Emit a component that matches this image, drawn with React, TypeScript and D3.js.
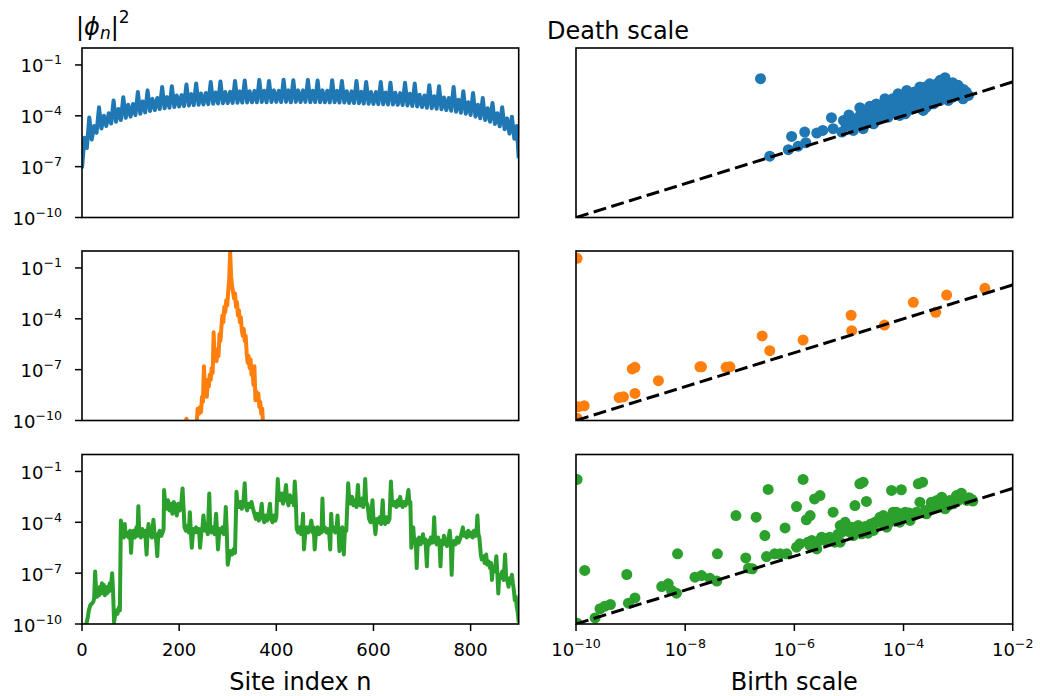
import React from "react";
import * as d3 from "d3";

// ---------- DATA (log10 values) ----------
// Row 1 (blue): [site n, log10 |phi_n|^2]
const blueWave: [number, number][] = [
[0,-7.1],[5,-5.3],[10,-5.9],[15,-4.1],[20,-5.4],[25,-4.6],[30,-5.0],[35,-3.5],[40,-4.75],[45,-4.0],[50,-4.6],[55,-3.85],[60,-4.45],[65,-3.1],[70,-4.35],[75,-3.6],[80,-4.25],[85,-2.9],[90,-4.12],[95,-3.35],[100,-4.05],[105,-3.3],[110,-3.95],[115,-2.6],[120,-3.88],[125,-3.15],[130,-3.8],[135,-2.5],[140,-3.72],[145,-3.0],[150,-3.66],[155,-2.95],[160,-3.6],[165,-2.3],[170,-3.56],[175,-2.9],[180,-3.52],[185,-2.25],[190,-3.48],[195,-2.8],[200,-3.45],[205,-2.78],[210,-3.42],[215,-2.15],[220,-3.4],[225,-2.72],[230,-3.37],[235,-2.1],[240,-3.35],[245,-2.68],[250,-3.33],[255,-2.65],[260,-3.31],[265,-2.0],[270,-3.29],[275,-2.62],[280,-3.27],[285,-1.98],[290,-3.26],[295,-2.6],[300,-3.25],[305,-2.58],[310,-3.24],[315,-1.95],[320,-3.23],[325,-2.56],[330,-3.22],[335,-1.92],[340,-3.21],[345,-2.55],[350,-3.2],[355,-2.53],[360,-3.2],[365,-1.88],[370,-3.19],[375,-2.52],[380,-3.2],[385,-1.95],[390,-3.19],[395,-2.5],[400,-3.18],[405,-2.52],[410,-3.19],[415,-1.87],[420,-3.18],[425,-2.5],[430,-3.2],[435,-1.9],[440,-3.18],[445,-2.5],[450,-3.19],[455,-2.5],[460,-3.18],[465,-1.88],[470,-3.2],[475,-2.52],[480,-3.19],[485,-1.92],[490,-3.2],[495,-2.5],[500,-3.2],[505,-2.52],[510,-3.21],[515,-1.9],[520,-3.2],[525,-2.53],[530,-3.22],[535,-1.95],[540,-3.22],[545,-2.55],[550,-3.24],[555,-2.56],[560,-3.25],[565,-1.95],[570,-3.26],[575,-2.58],[580,-3.28],[585,-2.0],[590,-3.29],[595,-2.6],[600,-3.3],[605,-2.6],[610,-3.31],[615,-2.0],[620,-3.32],[625,-2.62],[630,-3.33],[635,-2.05],[640,-3.34],[645,-2.64],[650,-3.35],[655,-2.66],[660,-3.36],[665,-2.05],[670,-3.39],[675,-2.7],[680,-3.42],[685,-2.1],[690,-3.45],[695,-2.76],[700,-3.48],[705,-2.8],[710,-3.52],[715,-2.2],[720,-3.55],[725,-2.85],[730,-3.58],[735,-2.25],[740,-3.62],[745,-2.92],[750,-3.66],[755,-2.95],[760,-3.7],[765,-2.3],[770,-3.76],[775,-3.05],[780,-3.82],[785,-2.55],[790,-3.88],[795,-3.2],[800,-3.95],[805,-2.65],[810,-4.05],[815,-3.35],[820,-4.15],[825,-2.95],[830,-4.25],[835,-3.55],[840,-4.35],[845,-3.25],[850,-4.48],[855,-3.85],[860,-4.62],[865,-3.5],[870,-4.8],[875,-4.15],[880,-5.05],[885,-4.05],[890,-5.35],[895,-4.6],[899,-6.5]
];

// Row 2 (orange)
const orangeWave: [number, number][] = [
[200,-11],[210,-10.6],[215,-9.9],[219,-10.6],[230,-10.8],[236,-10.2],[238,-9.3],[241,-9.6],[243,-9.2],[245,-9.5],[247,-8.6],[249,-8.9],[251,-6.8],[253,-8.3],[255,-7.9],[257,-8.6],[259,-7.6],[261,-8.0],[263,-7.3],[265,-7.6],[267,-6.9],[269,-7.2],[271,-4.8],[273,-6.4],[275,-6.0],[277,-6.5],[279,-5.8],[281,-6.2],[283,-4.9],[285,-5.3],[287,-4.5],[289,-3.8],[291,-4.2],[293,-3.3],[295,-3.6],[297,-2.9],[299,-3.2],[301,-2.4],[303,-1.7],[305,-0.05],[307,-1.5],[309,-2.1],[311,-2.4],[313,-2.8],[315,-2.5],[317,-3.3],[319,-3.0],[321,-3.8],[323,-3.5],[325,-4.2],[327,-3.9],[329,-4.7],[331,-5.0],[333,-4.6],[335,-5.3],[337,-5.0],[339,-6.0],[341,-6.6],[343,-6.2],[345,-6.9],[347,-6.4],[349,-7.3],[351,-7.0],[353,-7.9],[355,-6.8],[357,-8.8],[359,-8.3],[361,-8.8],[363,-8.4],[365,-9.2],[367,-8.9],[369,-9.6],[371,-9.3],[373,-10.4],[380,-11]
];

// Row 3 (green)
const greenWave: [number, number][] = [
[0,-10.3],[5,-10.1],[9,-10.0],[12,-9.6],[14,-9.2],[17,-8.9],[20,-8.8],[23,-8.7],[25,-8.5],[27,-6.9],[29,-8.0],[31,-8.4],[33,-7.9],[35,-8.3],[37,-7.8],[39,-8.2],[41,-7.6],[43,-8.0],[45,-7.7],[47,-8.3],[49,-7.9],[51,-8.2],[53,-7.8],[55,-8.1],[57,-7.6],[59,-8.0],[62,-7.0],[64,-8.1],[66,-9.9],[68,-9.5],[71,-9.2],[73,-9.4],[76,-9.0],[78,-9.2],
[80,-3.9],[82,-4.7],[84,-4.3],[86,-4.9],[88,-4.1],[90,-4.8],[93,-4.6],[96,-4.9],[99,-4.5],[101,-5.8],[103,-4.7],[106,-4.5],[109,-4.9],[112,-4.3],[114,-4.8],[116,-3.05],[118,-4.6],[121,-4.9],[124,-4.4],[127,-4.8],[130,-4.5],[133,-5.9],[135,-4.6],[137,-4.1],[139,-4.8],[141,-4.5],[144,-4.9],[147,-3.85],[149,-4.6],[152,-4.8],[155,-6.0],[157,-4.7],[160,-4.5],[163,-4.8],[166,-4.6],
[168,-4.4],[169,-2.1],[171,-2.8],[174,-3.2],[177,-2.7],[180,-3.3],[183,-2.9],[186,-3.5],[189,-2.8],[192,-3.1],[195,-3.6],[198,-2.9],[201,-3.3],[204,-3.0],[207,-2.0],[209,-3.1],
[211,-4.3],[214,-4.5],[217,-4.2],[220,-4.6],[222,-3.4],[224,-4.5],[226,-5.5],[229,-4.4],[232,-4.6],[235,-4.3],[238,-4.6],[241,-4.4],[243,-5.5],[246,-4.5],[248,-4.3],[250,-3.6],[253,-4.5],[256,-4.3],[259,-4.7],[262,-2.3],[264,-4.4],[267,-4.6],[270,-4.3],[273,-4.7],[276,-3.5],[278,-4.5],[280,-5.6],[283,-4.4],[286,-4.6],[289,-4.3],[292,-4.7],[294,-4.4],[296,-3.1],[298,-4.5],
[300,-6.5],[303,-6.0],[306,-5.7],[309,-5.9],[312,-5.6],[315,-5.8],
[318,-2.2],[320,-2.9],[323,-3.1],[326,-2.8],[329,-3.2],[332,-2.9],[335,-1.7],[337,-3.0],[340,-3.3],[343,-2.9],[346,-3.1],[349,-2.8],[352,-3.2],
[355,-3.5],[358,-3.8],[361,-3.5],[364,-3.9],[367,-3.6],[370,-2.9],[372,-3.7],[375,-4.0],[378,-3.6],[381,-3.9],[384,-3.5],[387,-2.9],[389,-3.8],[392,-4.0],[395,-3.6],[398,-3.9],[400,-3.7],
[403,-1.45],[405,-2.4],[408,-2.7],[411,-2.3],[414,-2.9],[417,-2.5],[420,-1.8],[422,-2.6],[425,-3.0],[428,-2.4],[431,-2.8],[434,-2.5],[436,-3.0],[438,-1.6],[440,-2.6],
[442,-4.4],[445,-4.6],[448,-4.3],[451,-4.7],[453,-4.4],[455,-3.5],[457,-5.6],[460,-4.5],[463,-4.3],[466,-4.6],[469,-4.4],[472,-3.9],[475,-4.6],[477,-4.3],[479,-5.6],[482,-4.5],[485,-4.3],[488,-4.7],[491,-4.4],[493,-4.6],[495,-2.6],[497,-4.5],[500,-4.3],[503,-4.6],[506,-4.4],[509,-4.7],[511,-5.6],[513,-3.5],[515,-4.5],[518,-4.3],[521,-4.6],[524,-4.4],[526,-3.6],[528,-4.5],[530,-5.7],[533,-4.5],[536,-4.3],[539,-5.9],[541,-4.6],[544,-4.5],
[548,-1.7],[550,-2.6],[553,-2.9],[556,-2.5],[559,-3.0],[562,-2.7],[565,-3.1],[568,-1.8],[570,-2.8],[573,-3.0],[576,-2.6],[579,-3.1],[581,-2.7],[583,-1.45],[585,-2.8],[588,-3.0],
[591,-3.8],[594,-4.0],[598,-2.7],[600,-3.8],[602,-4.1],[604,-4.7],[607,-3.8],[610,-4.0],[613,-3.7],[616,-4.1],[619,-2.7],[621,-3.9],[624,-4.1],[627,-3.7],[630,-4.0],[633,-3.8],
[636,-1.6],[638,-2.7],[641,-3.0],[644,-2.8],[647,-3.1],[650,-2.7],[653,-3.0],[655,-2.5],[657,-2.9],[660,-3.1],[663,-2.8],[666,-3.0],[669,-2.7],[672,-2.1],[674,-2.9],[676,-2.8],
[678,-5.5],[680,-5.0],[682,-4.3],[684,-5.2],[687,-5.0],[689,-6.7],[691,-5.1],[694,-4.9],[697,-5.3],[700,-5.0],[702,-4.7],[704,-5.2],[707,-5.0],[710,-6.6],[712,-5.1],[715,-5.3],[718,-4.9],[721,-5.2],[723,-5.0],[725,-3.7],[727,-5.1],[730,-5.3],[733,-4.9],[736,-5.2],[738,-6.6],[740,-5.1],[743,-5.3],[745,-4.8],[748,-5.1],[751,-5.4],[754,-5.0],[757,-4.5],[759,-5.2],[761,-7.1],[763,-5.4],[766,-5.1],[769,-5.3],[772,-4.9],[775,-5.2],[778,-5.0],
[781,-4.7],[784,-4.3],[786,-4.8],[789,-4.6],[792,-4.9],[795,-4.5],[798,-4.8],[801,-4.6],[804,-4.9],[807,-4.5],[810,-4.8],[812,-4.6],[814,-3.6],[816,-4.7],[818,-4.9],
[821,-5.9],[823,-6.2],[826,-6.0],[829,-6.4],[832,-5.9],[834,-6.5],[837,-6.3],[840,-6.7],[842,-6.4],[844,-7.4],[846,-6.6],[849,-6.9],[851,-6.6],[853,-6.0],[855,-7.0],[857,-8.2],[859,-7.1],[862,-7.3],[865,-6.9],[868,-7.4],[871,-5.9],[873,-7.2],[876,-7.5],[878,-7.8],[880,-7.3],[883,-7.6],[885,-7.1],[887,-7.6],[889,-8.0],
[891,-8.6],[893,-8.4],[895,-9.0],[897,-9.3],[899,-9.9]
];

// Persistence scatter: [log10 birth scale, log10 death scale]
const blueScatter: [number, number][] = [
[-6.62,-1.81],[-6.45,-6.38],[-6.11,-6.0],[-6.05,-5.22],[-5.93,-5.79],[-5.79,-5.59],[-5.81,-4.96],[-5.59,-5.02],[-5.48,-4.86],[-5.32,-4.11],[-5.29,-4.76],[-5.13,-4.96],[-5.1,-4.27],[-4.98,-4.07],[-4.92,-4.86],[-4.8,-3.52],[-4.65,-3.88],[-4.62,-3.44],[-4.71,-4.47],[-4.55,-4.47],[-4.43,-3.68],[-4.34,-2.99],[-4.28,-4.07],[-4.19,-3.39],[-4.1,-2.7],[-4.07,-3.98],[-3.94,-2.5],[-3.91,-3.68],[-3.76,-3.09],[-3.7,-2.3],[-3.58,-3.48],[-3.52,-2.11],[-3.39,-2.89],[-3.33,-1.91],[-3.24,-1.75],[-3.18,-3.09],[-3.09,-2.3],[-3.03,-2.8],[-2.91,-2.8],[-2.81,-2.8],
[-4.25,-3.09],[-4.13,-3.68],[-4.0,-3.09],[-3.88,-2.89],[-3.82,-3.48],[-3.64,-2.7],[-3.45,-2.5],[-3.33,-3.09],[-3.27,-2.5],[-3.15,-2.11],[-3.45,-3.29],[-3.64,-3.68],[-2.97,-2.5],[-3.09,-2.89],[-3.21,-2.3],[-3.97,-3.88],[-4.55,-3.88],[-4.8,-4.27],[-4.49,-4.17],[-3.79,-2.7],[-3.58,-2.89],[-3.39,-2.11],[-2.91,-3.0],[-4.74,-4.76],[-5.0,-3.95],[-5.05,-4.6],
[-4.9,-4.5],[-4.9,-4.2],[-4.8,-4.6],[-4.8,-4.0],[-4.7,-4.3],[-4.7,-3.7],[-4.6,-4.2],[-4.6,-3.9],[-4.5,-4.1],[-4.5,-3.6],[-4.5,-3.3],[-4.4,-4.0],[-4.4,-3.4],[-4.3,-3.9],[-4.3,-3.6],[-4.3,-3.2],[-4.2,-3.8],[-4.2,-3.0],[-4.1,-3.7],[-4.1,-3.3],[-4.0,-3.6],[-4.0,-3.2],[-4.0,-2.8],[-3.9,-3.5],[-3.9,-3.0],[-3.8,-3.4],[-3.8,-3.1],[-3.8,-2.6],[-3.7,-3.3],[-3.7,-2.9],[-3.7,-2.5],[-3.6,-3.2],[-3.6,-2.6],[-3.6,-2.3],[-3.5,-3.1],[-3.5,-2.8],[-3.5,-2.4],[-3.4,-3.0],[-3.4,-2.6],[-3.4,-2.2],[-3.3,-2.9],[-3.3,-2.4],[-3.3,-2.0],[-3.2,-2.85],[-3.2,-2.5],[-3.2,-2.1],[-3.1,-2.75],[-3.1,-2.5],[-3.1,-2.05],[-3.0,-2.7],[-3.0,-2.4],[-3.0,-2.2],[-2.9,-2.65],[-2.9,-2.45],[-2.85,-2.6],[-2.85,-2.75]
];

const orangeScatter: [number, number][] = [
[-9.98,-0.43],[-9.96,-9.19],[-9.85,-9.13],[-9.98,-9.87],[-9.21,-8.65],[-9.13,-8.6],[-8.92,-8.4],[-8.97,-6.96],[-8.92,-6.86],[-8.49,-7.65],[-7.73,-6.83],[-7.7,-6.83],[-7.25,-6.86],[-7.18,-6.83],[-6.59,-5.01],[-6.45,-5.88],[-5.84,-5.25],[-4.96,-3.79],[-4.95,-4.7],[-4.35,-4.37],[-3.82,-3.03],[-3.41,-3.62],[-3.21,-2.6],[-2.51,-2.2]
];

const greenScatter: [number, number][] = [
[-9.98,-1.47],[-9.84,-6.84],[-9.98,-9.95],[-9.65,-9.64],[-9.56,-9.1],[-9.47,-8.95],[-9.37,-8.85],[-9.07,-7.08],[-9.04,-8.77],[-8.92,-8.46],[-8.43,-7.79],[-8.31,-7.63],[-8.25,-8.02],[-8.14,-5.86],[-8.16,-8.18],[-7.82,-7.24],[-7.7,-7.14],[-7.55,-7.3],[-7.42,-7.47],[-7.41,-5.86],[-7.07,-3.6],[-6.89,-6.1],[-6.84,-6.71],[-6.77,-6.74],[-6.7,-3.7],[-6.54,-4.78],[-6.51,-6.02],[-6.48,-2.06],[-6.36,-5.86],[-6.17,-4.33],[-6.14,-5.86],[-5.96,-3.07],[-5.96,-5.47],[-5.84,-1.47],[-5.78,-3.85],[-5.75,-5.17],[-5.71,-3.6],[-5.71,-5.37],[-5.63,-2.62],[-5.53,-2.42],[-5.59,-5.57],[-5.5,-4.88],[-5.41,-5.07],[-5.35,-4.88],[-5.29,-3.4],[-5.26,-5.17],[-5.16,-5.17],[-5.13,-4.58],[-5.04,-4.39],[-4.95,-4.29],[-4.89,-3.01],[-4.86,-4.48],[-4.83,-4.19],[-4.8,-1.73],[-4.74,-1.63],[-4.77,-4.68],[-4.68,-2.77],[-4.65,-4.64],[-4.62,-4.39],[-4.52,-3.99],[-4.43,-3.7],[-4.37,-3.6],[-4.31,-4.29],[-4.22,-2.12],[-4.19,-3.4],[-4.04,-2.08],[-4.07,-3.99],[-3.97,-3.4],[-3.88,-3.89],[-3.76,-3.4],[-3.73,-1.73],[-3.65,-1.63],[-3.7,-2.81],[-3.58,-3.5],[-3.49,-2.81],[-3.39,-2.71],[-3.3,-2.52],[-3.24,-3.2],[-3.18,-3.01],[-3.09,-2.91],[-3.03,-2.42],[-2.94,-2.28],[-2.84,-2.71],[-2.73,-2.75],
[-5.16,-4.19],[-5.07,-4.0],[-4.92,-4.78],[-4.8,-4.39],[-4.55,-4.48],[-4.46,-3.89],[-4.25,-3.99],[-4.13,-3.4],[-3.82,-3.6],[-3.42,-3.11],[-3.33,-2.91],[-2.97,-2.61],[-3.15,-2.71],[-5.53,-5.07],[-5.68,-5.07],[-5.9,-5.27],[-6.26,-5.86],
[-5.4,-4.95],[-5.2,-4.7],[-5.0,-4.55],[-4.9,-4.35],[-4.7,-4.25],[-4.6,-4.1],[-4.4,-4.05],[-4.3,-3.8],[-4.1,-3.7],[-4.0,-3.55],[-3.9,-3.45],[-3.6,-3.3],[-3.5,-3.1],[-3.4,-3.0],[-3.2,-2.85],[-3.1,-2.8],[-3.0,-2.7],[-2.8,-2.55],[-2.75,-2.65]
];

const yTickExps = [-1, -4, -7, -10];
const siteTicks = [0, 200, 400, 600, 800];
const birthTickExps = [-10, -8, -6, -4, -2];
const siteDomain: [number, number] = [0, 899];
const logDomain: [number, number] = [1e-10, 1];
const birthDomain: [number, number] = [1e-10, 1e-2];
const seriesColors = ["#1f77b4", "#ff7f0e", "#2ca02c"];

// ---------- LAYOUT ----------
const FONT = "'DejaVu Sans', sans-serif";
const LEFT: [number, number] = [82, 518.7];
const RIGHT: [number, number] = [576, 1012.7];
const ROW_TOP = [48, 251, 454.5];
const ROW_H = 169.5;

const xSite = d3.scaleLinear().domain(siteDomain).range(LEFT);
const xBirth = d3.scaleLog().domain(birthDomain).range(RIGHT);
const yRows = ROW_TOP.map((t) => d3.scaleLog().domain(logDomain).range([t + ROW_H, t]));

const waves = [blueWave, orangeWave, greenWave];
const scatters = [blueScatter, orangeScatter, greenScatter];

function Pow({ x, y, e, anchor }: { x: number; y: number; e: number; anchor: string }) {
  return (
    <text x={x} y={y} textAnchor={anchor} fontSize={18} fontFamily={FONT} fill="#000">
      10
      <tspan dy={-8} fontSize={12.6}>{"\u2212" + Math.abs(e)}</tspan>
    </text>
  );
}

export default function App() {
  return (
    <svg width={1040} height={696} style={{ position: "absolute", left: 0, top: 0, background: "#fff" }}>
      <defs>
        {ROW_TOP.map((t, r) => (
          <React.Fragment key={r}>
            <clipPath id={`cl${r}`}>
              <rect x={LEFT[0]} y={t} width={LEFT[1] - LEFT[0]} height={ROW_H} />
            </clipPath>
            <clipPath id={`cr${r}`}>
              <rect x={RIGHT[0]} y={t} width={RIGHT[1] - RIGHT[0]} height={ROW_H} />
            </clipPath>
          </React.Fragment>
        ))}
      </defs>
      {ROW_TOP.map((t, r) => {
        const y = yRows[r];
        const line = d3
          .line<[number, number]>()
          .x((d) => xSite(d[0]))
          .y((d) => y(Math.pow(10, d[1])));
        const diag = d3
          .line<number>()
          .x((d) => xBirth(d))
          .y((d) => y(d));
        const bottom = t + ROW_H;
        return (
          <g key={r}>
            <g clipPath={`url(#cl${r})`}>
              <path d={line(waves[r]) || ""} fill="none" stroke={seriesColors[r]} strokeWidth={4} strokeLinejoin="round" />
            </g>
            <rect x={LEFT[0]} y={t} width={LEFT[1] - LEFT[0]} height={ROW_H} fill="none" stroke="#000" strokeWidth={1.6} />
            {yTickExps.map((e) => {
              const yy = y(Math.pow(10, e));
              return (
                <g key={e}>
                  <line x1={LEFT[0] - 7} x2={LEFT[0]} y1={yy} y2={yy} stroke="#000" strokeWidth={1.5} />
                  <Pow x={62} y={yy + 7.5} e={e} anchor="end" />
                </g>
              );
            })}
            <g clipPath={`url(#cr${r})`}>
              {scatters[r].map((d, i) => (
                <circle key={i} cx={xBirth(Math.pow(10, d[0]))} cy={y(Math.pow(10, d[1]))} r={5.5} fill={seriesColors[r]} />
              ))}
              <path d={diag(birthDomain) || ""} fill="none" stroke="#000" strokeWidth={3} strokeDasharray="13 5.5" />
            </g>
            <rect x={RIGHT[0]} y={t} width={RIGHT[1] - RIGHT[0]} height={ROW_H} fill="none" stroke="#000" strokeWidth={1.6} />
            {r === 2 && (
              <g>
                {siteTicks.map((s) => (
                  <g key={s}>
                    <line x1={xSite(s)} x2={xSite(s)} y1={bottom} y2={bottom + 7} stroke="#000" strokeWidth={1.5} />
                    <text x={xSite(s)} y={656} textAnchor="middle" fontSize={18} fontFamily={FONT}>{s}</text>
                  </g>
                ))}
                {birthTickExps.map((e) => (
                  <g key={e}>
                    <line x1={xBirth(Math.pow(10, e))} x2={xBirth(Math.pow(10, e))} y1={bottom} y2={bottom + 7} stroke="#000" strokeWidth={1.5} />
                    <Pow x={xBirth(Math.pow(10, e))} y={656} e={e} anchor="middle" />
                  </g>
                ))}
              </g>
            )}
          </g>
        );
      })}
      <text x={76} y={35} fontSize={24} fontFamily={FONT}>
        |<tspan fontStyle="italic">{"\u03D5"}</tspan>
        <tspan fontStyle="italic" fontSize={17} dy={4}>n</tspan>
        <tspan dy={-4}>|</tspan>
        <tspan fontSize={17} dy={-12}>2</tspan>
      </text>
      <text x={547} y={39} fontSize={24} fontFamily={FONT}>Death scale</text>
      <text x={(LEFT[0] + LEFT[1]) / 2} y={690} textAnchor="middle" fontSize={24} fontFamily={FONT}>Site index n</text>
      <text x={(RIGHT[0] + RIGHT[1]) / 2} y={690} textAnchor="middle" fontSize={24} fontFamily={FONT}>Birth scale</text>
    </svg>
  );
}
